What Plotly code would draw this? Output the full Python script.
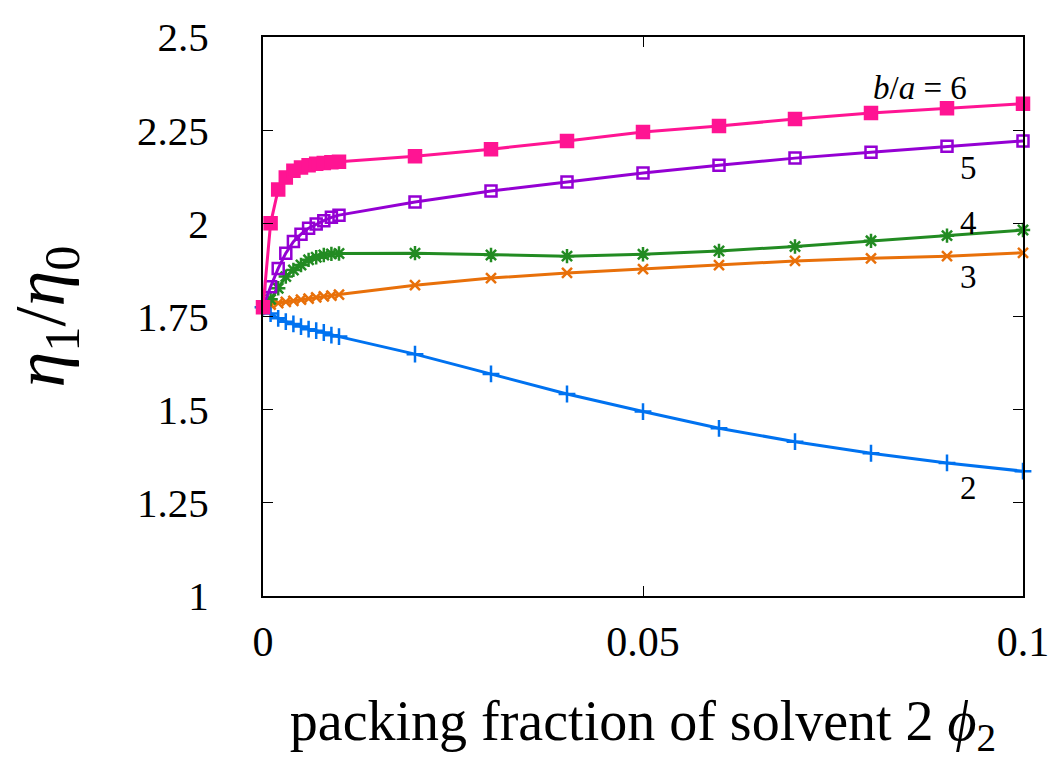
import plotly.graph_objects as go

phi = [0.0, 0.001, 0.002, 0.003, 0.004, 0.005, 0.006, 0.007, 0.008, 0.009, 0.01,
       0.02, 0.03, 0.04, 0.05, 0.06, 0.07, 0.08, 0.09, 0.1]

eta_ba2 = [1.775, 1.758, 1.745, 1.736, 1.730, 1.723, 1.716, 1.712, 1.707, 1.700, 1.696,
           1.649, 1.596, 1.542, 1.495, 1.450, 1.414, 1.383, 1.357, 1.335]
eta_ba3 = [1.775, 1.782, 1.786, 1.789, 1.792, 1.795, 1.798, 1.801, 1.804, 1.806, 1.809,
           1.834, 1.853, 1.867, 1.877, 1.888, 1.899, 1.906, 1.912, 1.921]
eta_ba4 = [1.775, 1.796, 1.826, 1.857, 1.875, 1.888, 1.902, 1.909, 1.915, 1.918, 1.919,
           1.920, 1.915, 1.912, 1.917, 1.926, 1.938, 1.953, 1.967, 1.982]
eta_ba5 = [1.775, 1.830, 1.879, 1.920, 1.951, 1.971, 1.987, 1.998, 2.007, 2.016, 2.022,
           2.057, 2.087, 2.111, 2.135, 2.156, 2.175, 2.191, 2.207, 2.221]
eta_ba6 = [1.775, 2.000, 2.091, 2.123, 2.141, 2.150, 2.156, 2.160, 2.162, 2.164, 2.165,
           2.180, 2.199, 2.221, 2.245, 2.261, 2.280, 2.296, 2.309, 2.321]

series = [
    ("2", eta_ba2, "#0072f0", "cross-thin", 12),
    ("3", eta_ba3, "#e8700a", "x-thin", 10),
    ("4", eta_ba4, "#228b22", "asterisk", 12),
    ("5", eta_ba5, "#9400d3", "square-open", 11),
    ("6", eta_ba6, "#ff1493", "square", 12),
]

label_text = ["2", "3", "4", "5", "<i>b</i>/<i>a</i> = 6"]
label_x = [0.0928, 0.0928, 0.0928, 0.0928, 0.0864]
label_y = [1.290, 1.856, 2.001, 2.148, 2.363]

fig = go.Figure()
for name, ys, color, sym, sz in series:
    fig.add_trace(go.Scatter(
        x=phi, y=ys, mode="lines+markers", name=name,
        line=dict(color=color, width=3),
        marker=dict(symbol=sym, size=sz, color=color,
                    line=dict(color=color, width=2.5)),
        showlegend=False, cliponaxis=False,
    ))

for t, lx, ly in zip(label_text, label_x, label_y):
    fig.add_annotation(x=lx, y=ly, text=t, showarrow=False,
                       xanchor="center", yanchor="middle",
                       font=dict(family="Liberation Serif", size=33, color="black"))

fig.update_layout(
    width=1055, height=760,
    margin=dict(l=263, r=32, t=37, b=164),
    plot_bgcolor="white", paper_bgcolor="white",
    font=dict(family="Liberation Serif", color="black"),
    xaxis=dict(
        range=[0, 0.1], tickvals=[0, 0.05, 0.1], ticktext=["0", "0.05", "0.1"],
        ticks="inside", ticklen=10, tickwidth=1.2, tickcolor="black",
        showline=True, linecolor="black", linewidth=2, mirror="ticks",
        showgrid=False, zeroline=False, automargin=False,
        ticklabelstandoff=8,
        tickfont=dict(size=42, family="Liberation Serif"),
        title=dict(text="packing fraction of solvent 2 <i>ϕ</i><sub>2</sub>",
                   font=dict(size=56, family="Liberation Serif"), standoff=36),
    ),
    yaxis=dict(
        range=[1, 2.5], tickvals=[1, 1.25, 1.5, 1.75, 2, 2.25, 2.5],
        ticktext=["1", "1.25", "1.5", "1.75", "2", "2.25", "2.5"],
        ticks="inside", ticklen=10, tickwidth=1.2, tickcolor="black",
        showline=True, linecolor="black", linewidth=2, mirror="ticks",
        showgrid=False, zeroline=False, automargin=False,
        ticklabelstandoff=44,
        tickfont=dict(size=41, family="Liberation Serif"),
        title=dict(text="<i>η</i><sub>1</sub>/<i>η</i><sub>0</sub>",
                   font=dict(size=72, family="Liberation Serif"), standoff=56),
    ),
)

fig.write_html("out.html", config={"displayModeBar": False},
               post_script="document.body.style.margin='0';")
